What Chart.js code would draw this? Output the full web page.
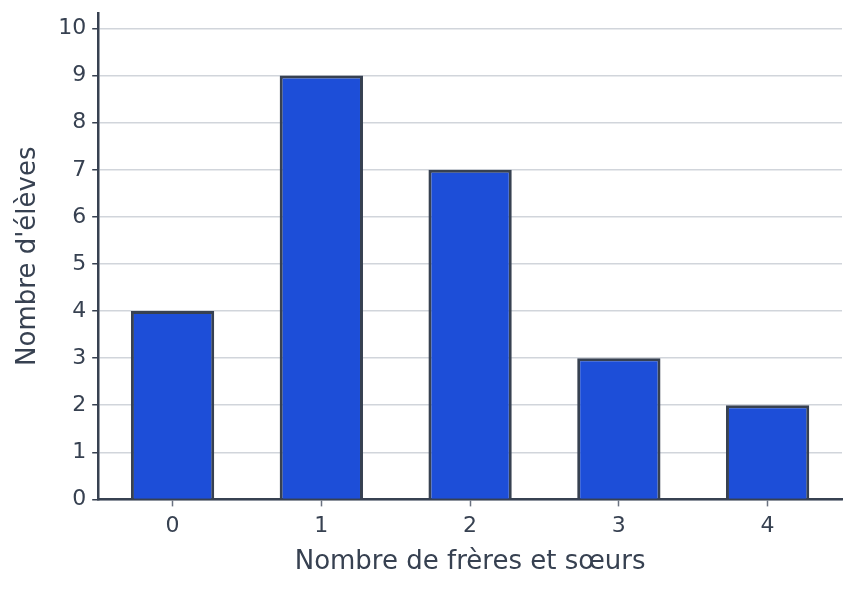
<!DOCTYPE html>
<html>
<head>
<meta charset="utf-8">
<script src="https://cdn.jsdelivr.net/npm/chart.js@4"></script>
<style>
  html, body { margin: 0; padding: 0; background: #fff; }
  #wrap { width: 857px; height: 591px; }
</style>
</head>
<body>
<div id="wrap"><canvas id="myChart"></canvas></div>
<script>
// données
const categories = ['0', '1', '2', '3', '4'];
const eleves = [4, 9, 7, 3, 2];
const yTicks = [0, 1, 2, 3, 4, 5, 6, 7, 8, 9, 10];
const yMax = 10.33;

const texte = '#374151';

const ctx = document.getElementById('myChart');
const myChart = new Chart(ctx, {
    type: 'bar',
    data: {
        labels: categories,
        datasets: [{
            label: "Nombre d'élèves",
            data: eleves,
            backgroundColor: '#1d4ed8',
            borderColor: texte,
            borderWidth: 3,
            categoryPercentage: 1,
            barPercentage: 0.56
        }]
    },
    options: {
        responsive: true,
        maintainAspectRatio: false,
        animation: false,
        layout: { padding: { top: 13, right: 15, bottom: 9, left: 9 } },
        plugins: {
            legend: { display: false },
            tooltip: { enabled: false }
        },
        scales: {
            x: {
                grid: { offset: false, drawOnChartArea: false, drawTicks: true, tickLength: 7, tickColor: '#6b7280', tickWidth: 1.5 },
                border: { color: texte, width: 2.5 },
                ticks: { color: texte, font: { family: 'DejaVu Sans', size: 22 }, padding: 7 },
                title: { display: true, text: 'Nombre de frères et sœurs', color: texte, font: { family: 'DejaVu Sans', size: 26 }, padding: { top: 0 } }
            },
            y: {
                min: 0,
                max: yMax,
                afterBuildTicks: (scale) => {
                    scale.ticks = yTicks.map(v => ({ value: v }));
                },
                afterFit: (scale) => {
                    // le libellé "10" est sous le haut de l'axe, pas besoin de marge
                    scale.paddingTop = 0;
                },
                grid: { color: '#d1d5db', lineWidth: 1.5, tickLength: 6, tickColor: texte, tickWidth: 1.5 },
                border: { color: texte, width: 2.5 },
                ticks: { color: texte, font: { family: 'DejaVu Sans', size: 22 }, padding: 6 },
                title: { display: true, text: "Nombre d'élèves", color: texte, font: { family: 'DejaVu Sans', size: 26 }, padding: { bottom: 8 } }
            }
        }
    }
});
</script>
</body>
</html>
